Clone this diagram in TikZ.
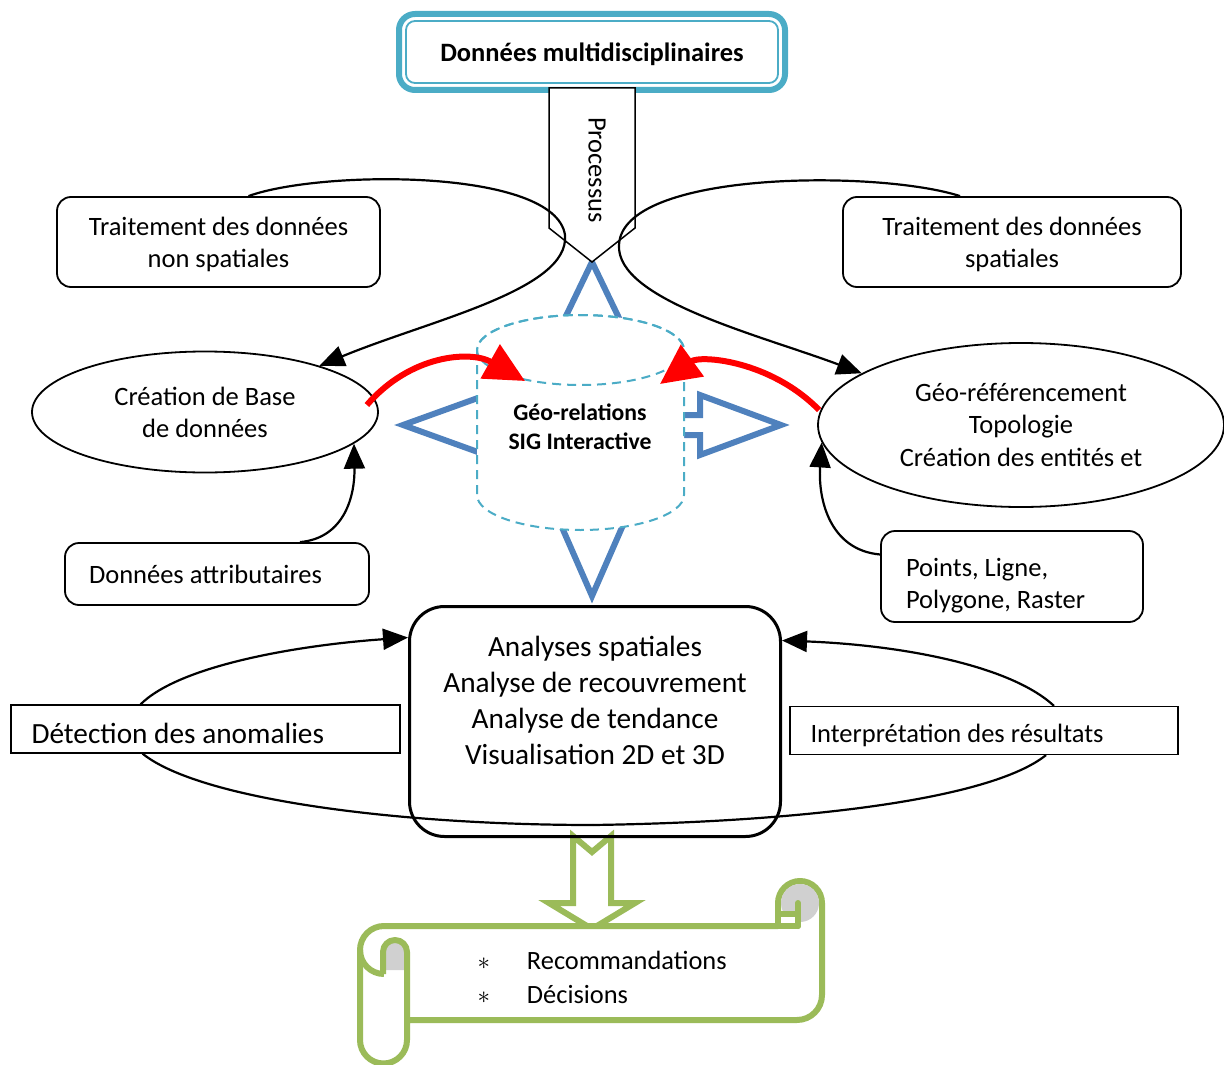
\documentclass[tikz,border=0pt]{standalone}
\usepackage{fontspec}
\setmainfont{Carlito}
\usetikzlibrary{arrows.meta,shapes.geometric}
\definecolor{bleuciel}{HTML}{4BACC6}
\definecolor{bleuacier}{HTML}{4F81BD}
\definecolor{vertolive}{HTML}{9BBB59}
\definecolor{grisroule}{HTML}{D0D0D0}
\begin{document}
\begin{tikzpicture}[
			x=1pt, y=-1pt,
			every node/.style={font=\fontsize{26.5}{32}\selectfont},
			boite/.style={draw, rounded corners=14pt, line width=1.8pt, align=center, inner sep=0pt},
			bulle/.style={draw, ellipse, line width=1.8pt, align=center, inner sep=0pt},
			cadre/.style={draw, line width=1.2pt, minimum height=48pt, text width=#1, inner xsep=20.5pt, inner ysep=0pt, align=flush left},
			lien/.style={line width=2.2pt, -{Triangle[length=25pt, width=21pt]}},
			lienrouge/.style={red, line width=6pt, -{Triangle[length=40pt, width=38pt]}},
			contour/.style={bleuacier, line width=6pt, line join=miter},
			rouleau/.style={vertolive, line width=6pt, line join=round},
			tireté/.style={bleuciel, line width=2pt, dash pattern=on 9pt off 6pt},
		]
		\useasboundingbox (0,0) rectangle (1224,1065);

		\node[draw=bleuciel, line width=6pt, rounded corners=16pt, minimum width=386pt, minimum height=76pt, text depth=-4pt, font=\bfseries\fontsize{26.5}{32}\selectfont] (donnees) at (592,52) {Données multidisciplinaires};
		\draw[bleuciel, line width=1.8pt, rounded corners=9pt] ([shift={(10,10)}]donnees.north west) rectangle ([shift={(-10,-10)}]donnees.south east);

		\draw[contour] (552,345) -- (592,262) -- (632,345) -- cycle;
		\draw[contour] (500,390) -- (403,425) -- (500,460) -- cycle;
		\draw[contour] (660,415) -- (700,415) -- (700,395) -- (781,425) -- (700,455) -- (700,435) -- (660,435) -- cycle;
		\draw[contour] (550,500) -- (592,596) -- (634,500) -- cycle;

		\draw[tireté, fill=white] (477,350) -- (477,495) arc[start angle=180, end angle=0, x radius=103.5, y radius=35] -- (684,350) arc[start angle=0, end angle=-180, x radius=103.5, y radius=35] -- cycle;
		\draw[tireté] (580.5,350) ellipse[x radius=103.5, y radius=35];
		\node[align=center, font=\bfseries\fontsize{23.7}{29}\selectfont] (georelations) at (580,427) {Géo-relations\\SIG Interactive};
		\coordinate (entreegauche) at (525,381);
		\coordinate (entreedroite) at (660,384);

		\draw[fill=white, line width=1.5pt] (549,88) -- (635,88) -- (635,228) -- (592,262) -- (549,228) -- cycle;
		\node[rotate=-90] (processus) at (597,170) {Processus};

		\node[boite, minimum width=323pt, minimum height=90pt, text depth=-7pt] (nonspatial) at (218.5,242) {Traitement des données\\non spatiales};
		\node[boite, minimum width=338pt, minimum height=90pt, text depth=-7pt] (spatial) at (1012,242) {Traitement des données\\spatiales};
		\node[bulle, minimum width=346pt, minimum height=121pt, text depth=-6pt] (basedonnees) at (205,412) {Création de Base\\de données};
		\node[bulle, minimum width=406pt, minimum height=164pt, font=\fontsize{26.5}{32.5}\selectfont] (georef) at (1021,425) {Géo-référencement\\Topologie\\Création des entités et};
		\node[boite, text width=256pt, inner xsep=24pt, minimum height=62pt, align=flush left] (attributs) at (217,574) {Données attributaires};
		\node[boite, text width=212pt, inner xsep=25pt, minimum height=91pt, align=flush left, text depth=17.5pt] (geometries) at (1012,576.5) {Points, Ligne,\\Polygone, Raster};

		\draw[lien] ([xshift=30pt]nonspatial.north) .. controls (320,170) and (555,168) .. (565,235) .. controls (570,290) and (430,320) .. (basedonnees.22);
		\draw[lien] ([xshift=-52pt]spatial.north) .. controls (880,170) and (622,170) .. (619,245) .. controls (616,300) and (760,335) .. (georef.162);
		\draw[lien] ([xshift=83pt]attributs.north) .. controls (345,538) and (355,495) .. (basedonnees.-12);
		\draw[lien] ([yshift=22pt]geometries.west) .. controls (830,550) and (818,500) .. (georef.-175);
		\draw[lienrouge] ([shift={(-12,-7)}]basedonnees.east) .. controls (410,355) and (470,350) .. (entreegauche);
		\draw[lienrouge] ([shift={(2,-15)}]georef.west) .. controls (770,360) and (700,355) .. (entreedroite);

		\draw[vertolive, line width=6pt, fill=white, line join=miter] (573,836) -- (592,852) -- (611,836) -- (611,903) -- (635,903) -- (592,929) -- (549,903) -- (573,903) -- cycle;

		\node[draw, line width=3pt, rounded corners=35pt, minimum width=371pt, minimum height=230pt] (analyses) at (595,721.5) {};
		\node[align=center, font=\fontsize{29.3}{36}\selectfont] (analysestexte) at (595,700) {Analyses spatiales\\Analyse de recouvrement\\Analyse de tendance\\Visualisation 2D et 3D};
		\node[cadre=348pt, font=\fontsize{29.3}{36}\selectfont, text height=28pt, text depth=0pt] (anomalies) at (205.5,729) {Détection des anomalies};
		\node[cadre=347pt, text height=23pt, text depth=0pt] (interpretation) at (984,730.5) {Interprétation des résultats};
		\coordinate (jonction) at (593,825);

		\draw[lien] ([xshift=-65pt]anomalies.north) .. controls (180,665) and (300,645) .. ([yshift=84pt]analyses.west);
		\draw[line width=2.2pt] ([xshift=-63pt]anomalies.south) .. controls (200,800) and (400,825) .. (jonction);
		\draw[lien] ([xshift=70pt]interpretation.north) .. controls (1010,665) and (900,645) .. ([yshift=81pt]analyses.east);
		\draw[line width=2.2pt] ([xshift=62pt]interpretation.south) .. controls (990,800) and (800,822) .. (jonction);

		\draw[rouleau, fill=white] (778,926) -- (384,926) arc[start angle=270, end angle=180, radius=24] -- (360,1040) arc[start angle=180, end angle=0, radius=23.5] -- (407,1020) -- (797,1020) arc[start angle=90, end angle=0, radius=25] -- (822,903) arc[start angle=0, end angle=-180, radius=22] -- cycle;
		\draw[rouleau] (360,950) arc[start angle=180, end angle=90, radius=24];
		\fill[grisroule] (384,970) -- (384,952) arc[start angle=180, end angle=360, radius=11.5] -- (407,970) -- cycle;
		\draw[rouleau] (383,974) -- (383,952) arc[start angle=180, end angle=360, radius=12] -- (407,1020);
		\fill[grisroule] (800,903) circle[radius=19];
		\draw[rouleau, fill=white] (778,914) rectangle (798,926);
		\draw[rouleau, line cap=round] (798,903) -- (798,926);
		\node[anchor=west, align=left, font=\fontsize{26.4}{34}\selectfont] (decisions) at (474,977) {$\ast$\hspace{37pt}Recommandations\\$\ast$\hspace{37pt}Décisions};
	\end{tikzpicture}
\end{document}
